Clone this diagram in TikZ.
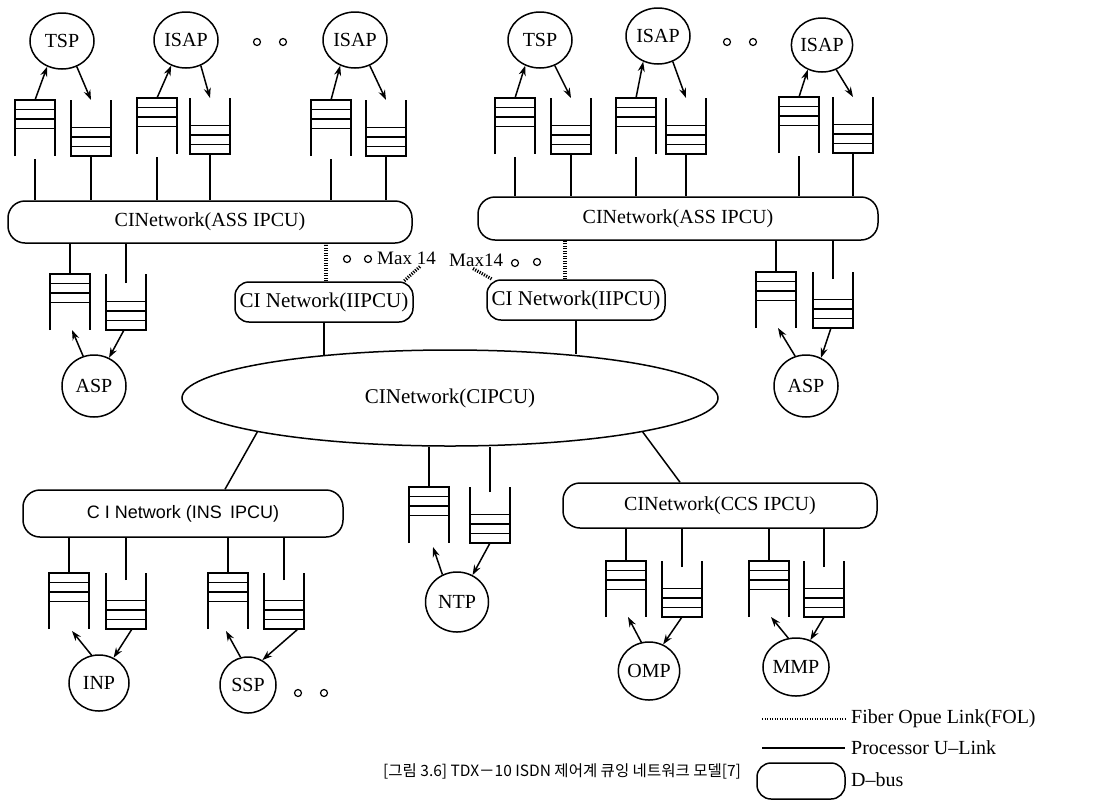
\documentclass[tikz,border=0pt]{standalone}
\usepackage{fontspec}
\setmainfont{Liberation Serif}
\newfontfamily\sansf{Liberation Sans}
\newfontfamily\kr{Noto Sans CJK KR}
\usetikzlibrary{arrows.meta,shapes.geometric,calc}
\tikzset{
  ln/.style={line width=1.5pt},
  arr/.style={line width=1.5pt,-{Stealth[length=10pt,width=7pt]}},
  fol/.style={line width=3.2pt,dash pattern=on 1.2pt off 1.3pt},
  bus/.style={draw,line width=1.5pt,rounded corners=17pt,inner sep=0pt,font=\fontsize{20}{24}\selectfont},
  proc/.style={draw,ellipse,line width=1.5pt,inner sep=0pt,minimum width=64pt,minimum height=56pt,font=\fontsize{20}{24}\selectfont},
  dot/.style={draw,circle,line width=1.2pt,minimum size=7pt,inner sep=0pt},
  lbl/.style={inner sep=0pt,font=\fontsize{19}{22}\selectfont},
  qtop/.pic={
    \draw[ln] (-20,56) -- (-20,0) -- (20,0) -- (20,56);
    \draw[ln] (-20,9.5) -- (20,9.5) (-20,19) -- (20,19) (-20,28.5) -- (20,28.5);
    \coordinate (-top) at (0,0);
    \coordinate (-bot) at (0,56);
  },
  qbot/.pic={
    \draw[ln] (-20,0) -- (-20,56) -- (20,56) -- (20,0);
    \draw[ln] (-20,46.5) -- (20,46.5) (-20,37) -- (20,37) (-20,27.5) -- (20,27.5);
    \coordinate (-top) at (0,0);
    \coordinate (-bot) at (0,56);
  },
}
\begin{document}
\begin{tikzpicture}[x=1pt,y=-1pt]
\useasboundingbox (0,0) rectangle (1110,804);
\fill[white] (0,0) rectangle (1110,804);

% ---------- top-left cluster ----------
\node[proc] (TSP1) at (62,41) {TSP};
\node[proc] (ISAP1) at (186,40) {ISAP};
\node[proc] (ISAP2) at (355,40) {ISAP};
\node[dot] (d1) at (257,42) {};
\node[dot] (d2) at (283,42) {};
\pic (a1) at (35,100) {qtop};
\pic (b1) at (91,100) {qbot};
\pic (a2) at (157,98) {qtop};
\pic (b2) at (210,98) {qbot};
\pic (a3) at (331,100) {qtop};
\pic (b3) at (386,100) {qbot};
\node[bus,minimum width=404pt,minimum height=42pt] (B1) at (210,222) {CINetwork(ASS IPCU)};
\foreach \q in {a1,a2,a3} {\draw[ln] ([yshift=-3pt]\q-bot) -- (\q-bot |- B1.north);}
\foreach \q in {b1,b2,b3} {\draw[ln] (\q-bot) -- (\q-bot |- B1.north);}
\draw[arr] (a1-top) -- (TSP1.240);
\draw[arr] (TSP1.300) -- (b1-top);
\draw[arr] (a2-top) -- (ISAP1.240);
\draw[arr] (ISAP1.300) -- (b2-top);
\draw[arr] (a3-top) -- (ISAP2.240);
\draw[arr] (ISAP2.300) -- (b3-top);

% ---------- top-right cluster ----------
\node[proc] (TSP2) at (540,40) {TSP};
\node[proc] (ISAP3) at (658,36) {ISAP};
\node[proc,minimum width=58pt,minimum height=54pt] (ISAP4) at (822,45) {ISAP};
\node[dot] (d3) at (727,42) {};
\node[dot] (d4) at (753,42) {};
\pic (a4) at (515,98) {qtop};
\pic (b4) at (571,98) {qbot};
\pic (a5) at (636,98) {qtop};
\pic (b5) at (686,98) {qbot};
\pic (a6) at (799,97) {qtop};
\pic (b6) at (853,97) {qbot};
\node[bus,minimum width=400pt,minimum height=43pt] (B2) at (678,218.5) {CINetwork(ASS IPCU)};
\foreach \q in {a4,a5,a6} {\draw[ln] ([yshift=-3pt]\q-bot) -- (\q-bot |- B2.north);}
\foreach \q in {b4,b5,b6} {\draw[ln] (\q-bot) -- (\q-bot |- B2.north);}
\draw[arr] (a4-top) -- (TSP2.240);
\draw[arr] (TSP2.300) -- (b4-top);
\draw[arr] (a5-top) -- (ISAP3.240);
\draw[arr] (ISAP3.300) -- (b5-top);
\draw[arr] (a6-top) -- (ISAP4.240);
\draw[arr] (ISAP4.300) -- (b6-top);

% ---------- ASP under the ASS buses ----------
\pic (a7) at (70,274) {qtop};
\pic (b7) at (126,274) {qbot};
\node[proc,minimum height=62pt] (ASP1) at (94,386) {ASP};
\draw[ln] (a7-top) -- (a7-top |- B1.south);
\draw[ln] ([yshift=-9pt]b7-top) -- (b7-top |- B1.south);
\draw[arr] (ASP1.110) -- ([xshift=2pt]a7-bot);
\draw[arr] ([xshift=-2pt]b7-bot) -- (ASP1.62);

\pic (a8) at (776,272) {qtop};
\pic (b8) at (833,272) {qbot};
\node[proc,minimum height=62pt] (ASP2) at (806,386) {ASP};
\draw[ln] (a8-top) -- (a8-top |- B2.south);
\draw[ln] ([yshift=-7pt]b8-top) -- (b8-top |- B2.south);
\draw[arr] (ASP2.110) -- ([xshift=2pt]a8-bot);
\draw[arr] ([xshift=-2pt]b8-bot) -- (ASP2.62);

% ---------- IIPCU and fiber links ----------
\node[bus,rounded corners=14pt,minimum width=178pt,minimum height=40pt,font=\fontsize{21}{24}\selectfont] (L1) at (324,302) {CI Network(IIPCU)};
\node[bus,rounded corners=14pt,minimum width=178pt,minimum height=40pt,font=\fontsize{21}{24}\selectfont] (L2) at (576,300) {CI Network(IIPCU)};
\draw[fol] ([xshift=2pt]L1.north) -- ([xshift=2pt]L1.north |- B1.south);
\draw[fol] ([xshift=-11pt]L2.north) -- ([xshift=-11pt]L2.north |- B2.south);
\node[dot] (d5) at (347,259) {};
\node[dot] (d6) at (368,259) {};
\node[lbl,anchor=west] (m1) at (377,258) {Max 14};
\node[lbl,anchor=west] (m2) at (449,260) {Max14};
\node[dot] (d7) at (515,263) {};
\node[dot] (d8) at (537,262) {};
\draw[fol] ([xshift=-16pt,yshift=-2pt]m1.south east) -- ([xshift=-10pt]L1.north east);
\draw[fol] ([xshift=24pt,yshift=-2pt]m2.south west) -- ([xshift=6pt]L2.north west);

% ---------- central ellipse ----------
\node[draw,ellipse,line width=1.5pt,inner sep=0pt,minimum width=536pt,minimum height=96pt,font=\fontsize{21}{24}\selectfont] (C) at (450,398) {CINetwork(CIPCU)};
\draw[ln] (L1.south) -- (L1.south |- C.161);
\draw[ln] (L2.south) -- (L2.south |- C.21);

% ---------- INS IPCU ----------
\node[bus,minimum width=320pt,minimum height=47pt,font=\sansf\fontsize{18}{22}\selectfont] (I1) at (183,513.5) {C I Network (INS\, IPCU)};
\draw[ln] (C.190) -- ([xshift=42pt]I1.north);
\pic (a10) at (69,573) {qtop};
\pic (b10) at (126,573) {qbot};
\pic (a11) at (228,573) {qtop};
\pic (b11) at (284,573) {qbot};
\node[proc,minimum width=60pt,minimum height=56pt] (INP) at (99,683) {INP};
\node[proc,minimum width=56pt,minimum height=56pt] (SSP) at (248,685) {SSP};
\node[dot] (d9) at (298,693) {};
\node[dot] (d10) at (324,693) {};
\foreach \q in {a10,a11} {\draw[ln] (\q-top) -- (\q-top |- I1.south);}
\foreach \q in {b10,b11} {\draw[ln] ([yshift=-7pt]\q-top) -- (\q-top |- I1.south);}
\draw[arr] (INP.105) -- ([xshift=3pt,yshift=-2pt]a10-bot);
\draw[arr] ([xshift=6pt]b10-bot) -- (INP.60);
\draw[arr] (SSP.105) -- ([xshift=-2pt,yshift=-2pt]a11-bot);
\draw[arr] ([xshift=14pt]b11-bot) -- (SSP.60);

% ---------- NTP ----------
\pic (a9) at (429,487) {qtop};
\pic (b9) at (490,487) {qbot};
\node[proc,minimum width=63pt,minimum height=60pt] (NTP) at (457,602) {NTP};
\draw[ln] (a9-top) -- (a9-top |- C.south);
\draw[ln] ([yshift=-5pt]b9-top) -- (b9-top |- C.south);
\draw[arr] (NTP.118) -- ([xshift=4pt,yshift=-4pt]a9-bot);
\draw[arr] (b9-bot) -- (NTP.60);

% ---------- CCS IPCU ----------
\node[bus,minimum width=314pt,minimum height=45pt] (K1) at (720,505.5) {CINetwork(CCS IPCU)};
\draw[ln] (C.350) -- ([xshift=-40pt]K1.north);
\pic (a12) at (626,561) {qtop};
\pic (b12) at (682,561) {qbot};
\pic (a13) at (769,561) {qtop};
\pic (b13) at (824,561) {qbot};
\node[proc,minimum width=60pt,minimum height=58pt] (OMP) at (649,671) {OMP};
\node[proc,minimum width=60pt,minimum height=58pt] (MMP) at (796,667) {MMP};
\foreach \q in {a12,a13} {\draw[ln] (\q-top) -- (\q-top |- K1.south);}
\foreach \q in {b12,b13} {\draw[ln] ([yshift=-6pt]\q-top) -- (\q-top |- K1.south);}
\draw[arr] (OMP.105) -- ([xshift=2pt]a12-bot);
\draw[arr] (b12-bot) -- (OMP.62);
\draw[arr] (MMP.105) -- ([xshift=2pt]a13-bot);
\draw[arr] (b13-bot) -- (MMP.62);

% ---------- legend ----------
\coordinate (f1) at (762,719);
\coordinate (f2) at (845,719);
\draw[fol,line width=2.5pt] (f1) -- (f2);
\node[lbl,anchor=west,font=\fontsize{20}{24}\selectfont] (t1) at (851,719) {Fiber Opue Link(FOL)};
\coordinate (p1) at (762,748);
\coordinate (p2) at (845,748);
\draw[ln] (p1) -- (p2);
\node[lbl,anchor=west,font=\fontsize{20}{24}\selectfont] (t2) at (851,748) {Processor U--Link};
\node[draw,line width=1.5pt,rounded corners=14pt,minimum width=88pt,minimum height=36pt,inner sep=0pt] (db) at (801,781) {};
\node[lbl,anchor=west,font=\fontsize{20}{24}\selectfont] (t3) at (851,780) {D--bus};

% ---------- caption ----------
\node[inner sep=0pt,anchor=west,font=\kr\fontsize{15.5}{19}\selectfont] (cap) at (383,771) {[그림 3.6]\ TDX－10 ISDN 제어계 큐잉 네트워크 모델[7]};
\end{tikzpicture}
\end{document}
